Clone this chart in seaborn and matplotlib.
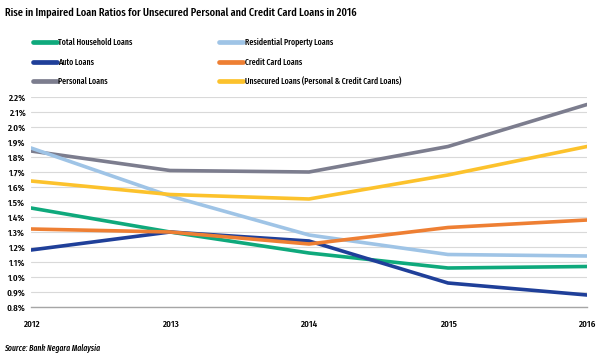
import matplotlib
matplotlib.use("Agg")
import matplotlib.pyplot as plt
import seaborn as sns
import pandas as pd

years = [2012, 2013, 2014, 2015, 2016]
total_household = [1.46, 1.30, 1.16, 1.06, 1.07]
residential = [1.86, 1.54, 1.28, 1.15, 1.14]
auto = [1.18, 1.30, 1.24, 0.96, 0.88]
credit_card = [1.32, 1.30, 1.22, 1.33, 1.38]
personal = [1.84, 1.71, 1.70, 1.87, 2.15]
unsecured = [1.64, 1.55, 1.52, 1.68, 1.87]

series_names = ["Total Household Loans", "Auto Loans", "Personal Loans",
                "Residential Property Loans", "Credit Card Loans",
                "Unsecured Loans (Personal & Credit Card Loans)"]
series_values = [total_household, auto, personal, residential, credit_card, unsecured]
colors = ["#0fa97c", "#1f3f99", "#7c7d8e", "#9fc4e6", "#ee7f33", "#fcc22c"]
y_ticks = [0.8, 0.9, 1.0, 1.1, 1.2, 1.3, 1.4, 1.5, 1.6, 1.7, 1.8, 1.9, 2.0, 2.1, 2.2]
title = "Rise in Impaired Loan Ratios for Unsecured Personal and Credit Card Loans in 2016"
source = "Source: Bank Negara Malaysia"

rows = []
for name, vals in zip(series_names, series_values):
    for yr, v in zip(years, vals):
        rows.append({"Year": yr, "Ratio": v, "Series": name})
df = pd.DataFrame(rows)

sns.set_style("white")
FONT = ["Fira Sans Extra Condensed", "PT Sans Narrow", "DejaVu Sans"]
plt.rcParams["font.family"] = FONT
plt.rcParams["font.weight"] = "medium"
TXT = "#000000"

W, H = 600, 360
fig = plt.figure(figsize=(6, 3.6), dpi=100)
renderer = fig.canvas.get_renderer()


def fit_size(text, target_px, **kw):
    t = fig.text(0, 0, text, fontsize=10, **kw)
    w = t.get_window_extent(renderer).width
    t.remove()
    return 10 * target_px / w


title_fs = fit_size(title, 353)
source_fs = fit_size(source, 96, style="italic")
legend_fs = fit_size("Total Household Loans", 74)
tick_fs = fit_size("2012", 16.5)

ax = fig.add_axes([31 / W, 1 - 307 / H, (587 - 31) / W, 210 / H])

sns.lineplot(data=df, x="Year", y="Ratio", hue="Series", hue_order=series_names,
             palette=colors, linewidth=2.6, ax=ax, legend=True, sort=False)

ax.set_xlim(2012, 2016)
ax.set_ylim(0.8, 2.2)
ax.set_xticks(years)
ax.set_xticklabels([str(y) for y in years])
ax.set_yticks(y_ticks)
ax.set_yticklabels([f"{t:.1f}%" for t in y_ticks])
ax.set_xlabel("")
ax.set_ylabel("")
ax.grid(axis="y", color="#d9d9d9", linewidth=0.8)
ax.set_axisbelow(True)
for s in ["top", "right", "left"]:
    ax.spines[s].set_visible(False)
ax.spines["bottom"].set_color("#a6a6a6")
ax.spines["bottom"].set_linewidth(1.0)
ax.tick_params(axis="x", length=5, color="#a6a6a6", width=1.0, labelsize=tick_fs,
               pad=4, labelcolor=TXT)
ax.tick_params(axis="y", length=0, labelsize=tick_fs, pad=4, labelcolor=TXT)

handles, labels = ax.get_legend_handles_labels()
ax.get_legend().remove()
for h in handles:
    h.set_linewidth(3.4)
fs_px = legend_fs * 100 / 72
row_targets = [42.3, 61.7, 81.0]


def make_legends(spacing, top):
    common = dict(loc="upper left", frameon=False, fontsize=legend_fs,
                  handlelength=24 / fs_px, handletextpad=1.5 / fs_px,
                  labelspacing=spacing, borderaxespad=0, borderpad=0,
                  labelcolor=TXT)
    l1 = fig.legend(handles[:3], labels[:3],
                    bbox_to_anchor=(32.7 / W, 1 - top / H), **common)
    l2 = fig.legend(handles[3:], labels[3:],
                    bbox_to_anchor=(219.3 / W, 1 - top / H), **common)
    return l1, l2


spacing, top = 0.85, 35.0
for _ in range(3):
    l1, l2 = make_legends(spacing, top)
    fig.canvas.draw()
    centers = []
    for line in l1.get_lines():
        bb = line.get_window_extent(renderer)
        centers.append(H - (bb.y0 + bb.y1) / 2)
    l1.remove()
    l2.remove()
    meas_gap = (centers[-1] - centers[0]) / 2
    tgt_gap = (row_targets[-1] - row_targets[0]) / 2
    spacing += (tgt_gap - meas_gap) / fs_px
    top += row_targets[0] - centers[0]
make_legends(spacing, top)

fig.text(5 / W, 1 - 13 / H, title, fontsize=title_fs, va="center", ha="left",
         color=TXT)
fig.text(4 / W, 1 - 348 / H, source, fontsize=source_fs, style="italic",
         va="center", ha="left", color=TXT)

fig.savefig("out.png", dpi=100)
